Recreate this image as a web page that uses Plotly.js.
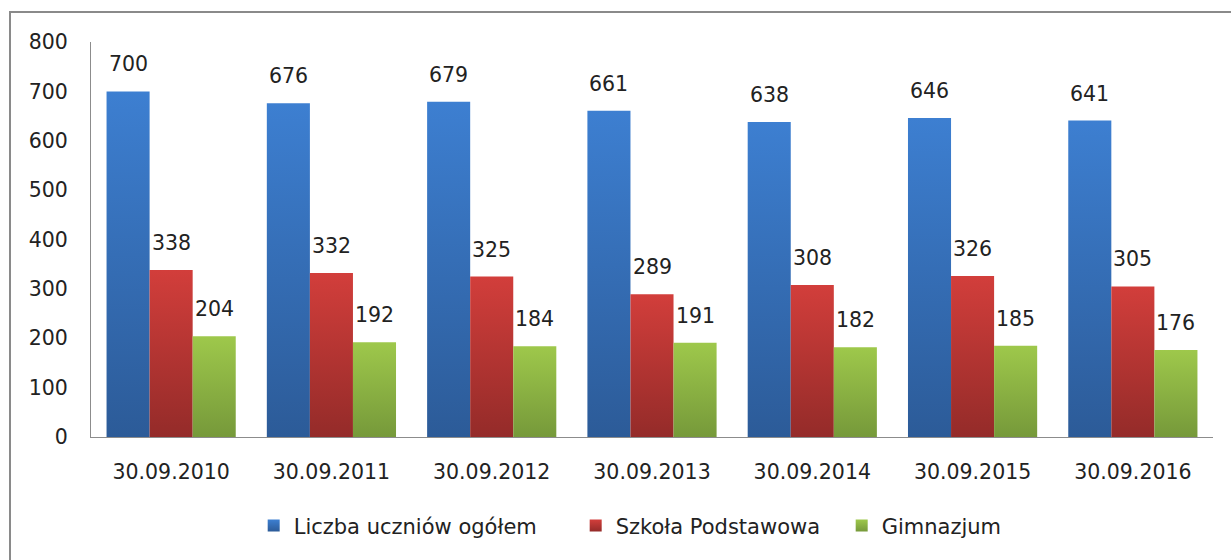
<!DOCTYPE html>
<html>
<head>
<meta charset="utf-8">
<script src="https://cdn.plot.ly/plotly-3.0.1.min.js"></script>
<style>
  html, body { margin: 0; padding: 0; background: #fff; overflow: hidden; }
  #wrap { position: relative; width: 1231px; height: 560px; }
  #chart { width: 1231px; height: 560px; }
  #frame { position: absolute; left: 9px; top: 11px; width: 1300px; height: 700px;
           border: 2px solid #8a8a8a; box-sizing: border-box; pointer-events: none; }
</style>
</head>
<body>
<div id="wrap">
  <div id="chart"></div>
  <div id="frame"></div>
</div>
<script>
const categories = ["30.09.2010", "30.09.2011", "30.09.2012", "30.09.2013", "30.09.2014", "30.09.2015", "30.09.2016"];
const seriesNames = ["Liczba uczniów ogółem", "Szkoła Podstawowa", "Gimnazjum"];
const totalStudents = [700, 676, 679, 661, 638, 646, 641];
const primarySchool = [338, 332, 325, 289, 308, 326, 305];
const middleSchool = [204, 192, 184, 191, 182, 185, 176];
const yTickValues = [0, 100, 200, 300, 400, 500, 600, 700, 800];

const seriesValues = [totalStudents, primarySchool, middleSchool];
const baseColors = ["#3a78c8", "#c43b39", "#8fb944"];
const gradStops = [
  ["#3d7fd1", "#2c5b98"],
  ["#d23e3b", "#942b29"],
  ["#9ec84b", "#76993a"]
];
const legendWidths = [277, 221, 0];

const FONT = "DejaVu Sans, Verdana, sans-serif";
const TXT = "#222222";
const bargap = 0.194;

const traces = seriesValues.map((vals, k) => {
  const t = {
    type: "bar",
    name: seriesNames[k],
    x: categories,
    y: vals,
    marker: { color: baseColors[k], line: { width: 0 } },
    hoverinfo: "x+y+name"
  };
  if (legendWidths[k]) t.legendwidth = legendWidths[k];
  return t;
});

// data labels through annotations positioned on the library's axes
const barW = (1 - bargap) / seriesValues.length;
const annotations = [];
seriesValues.forEach((vals, k) => {
  vals.forEach((v, i) => {
    annotations.push({
      xref: "x", yref: "y",
      x: i + (k - (seriesValues.length - 1) / 2) * barW,
      y: v,
      text: String(v),
      showarrow: false,
      xanchor: "center", yanchor: "middle",
      yshift: 27,
      font: { family: FONT, size: 20.5, color: TXT }
    });
  });
});

const layout = {
  width: 1231, height: 560,
  margin: { l: 91, r: 18, t: 42, b: 123, pad: 0 },
  paper_bgcolor: "#ffffff",
  plot_bgcolor: "#ffffff",
  barmode: "group",
  bargap: bargap,
  bargroupgap: 0,
  showlegend: true,
  legend: {
    orientation: "h",
    x: 0.145, xanchor: "left",
    y: -0.225, yanchor: "middle",
    font: { family: FONT, size: 21, color: TXT },
    itemwidth: 30,
    traceorder: "normal"
  },
  xaxis: {
    type: "category",
    showline: true, linecolor: "#8c8c8c", linewidth: 1,
    showgrid: false, zeroline: false, ticks: "",
    ticklabelstandoff: 16,
    tickfont: { family: FONT, size: 20.5, color: TXT },
    fixedrange: true
  },
  yaxis: {
    range: [0, 800],
    tickvals: yTickValues,
    ticktext: yTickValues.map(String),
    showline: true, linecolor: "#8c8c8c", linewidth: 1,
    showgrid: false, zeroline: false, ticks: "",
    ticklabelstandoff: 18,
    tickfont: { family: FONT, size: 20.5, color: TXT },
    fixedrange: true
  },
  annotations: annotations
};

Plotly.newPlot("chart", traces, layout, { displayModeBar: false, staticPlot: true }).then(gd => {
  const svgNS = "http://www.w3.org/2000/svg";
  const svg = gd.querySelector("svg.main-svg");
  let defs = svg.querySelector("defs");
  if (!defs) { defs = document.createElementNS(svgNS, "defs"); svg.insertBefore(defs, svg.firstChild); }
  gradStops.forEach((stops, k) => {
    const lg = document.createElementNS(svgNS, "linearGradient");
    lg.setAttribute("id", "barGrad" + k);
    lg.setAttribute("x1", "0"); lg.setAttribute("y1", "0");
    lg.setAttribute("x2", "0"); lg.setAttribute("y2", "1");
    const s1 = document.createElementNS(svgNS, "stop");
    s1.setAttribute("offset", "0"); s1.setAttribute("stop-color", stops[0]);
    const s2 = document.createElementNS(svgNS, "stop");
    s2.setAttribute("offset", "1"); s2.setAttribute("stop-color", stops[1]);
    lg.appendChild(s1); lg.appendChild(s2);
    defs.appendChild(lg);
  });
  gd.querySelectorAll(".barlayer .trace.bars").forEach((tr, k) => {
    tr.querySelectorAll(".point path").forEach(p => { p.style.fill = "url(#barGrad" + k + ")"; });
  });
  gd.querySelectorAll(".legend .traces").forEach((tr, k) => {
    tr.querySelectorAll(".legendpoints path").forEach(p => { p.style.fill = "url(#barGrad" + k + ")"; });
  });
});
</script>
</body>
</html>
